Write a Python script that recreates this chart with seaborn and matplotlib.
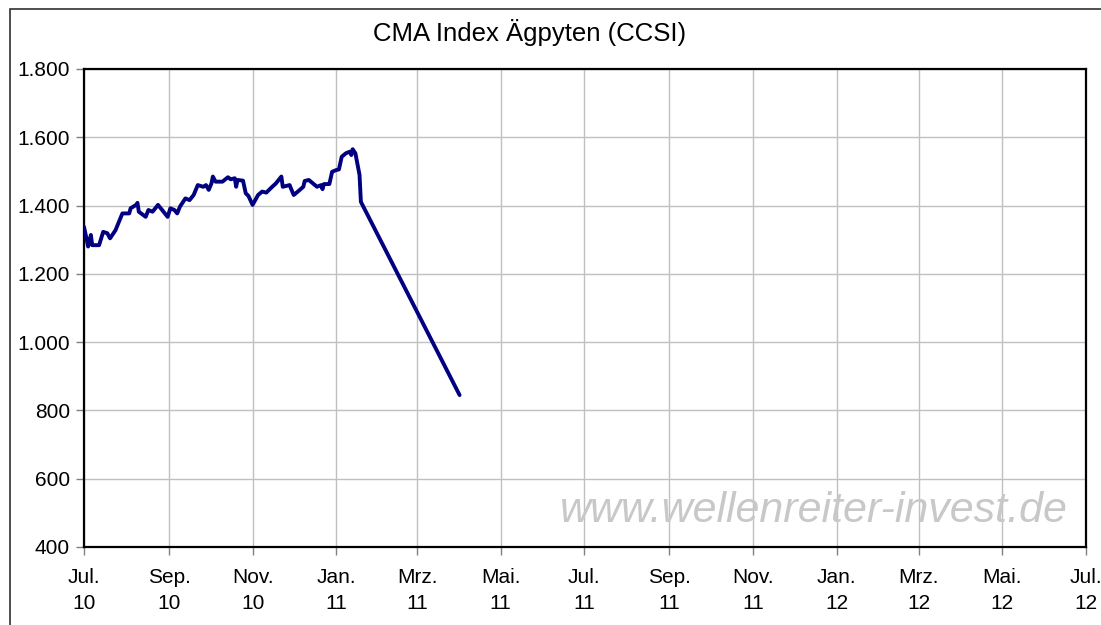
import pandas as pd
import seaborn as sns
import matplotlib.pyplot as plt
import matplotlib.dates as mdates
from matplotlib.patches import Rectangle
from matplotlib.ticker import FuncFormatter

# data
dates = [
    "2010-07-01", "2010-07-04", "2010-07-06", "2010-07-07", "2010-07-12", "2010-07-15",
    "2010-07-18", "2010-07-20", "2010-07-24", "2010-07-29", "2010-08-03", "2010-08-04",
    "2010-08-08", "2010-08-09", "2010-08-10", "2010-08-15", "2010-08-17", "2010-08-20",
    "2010-08-24", "2010-08-26", "2010-08-31", "2010-09-02", "2010-09-05", "2010-09-07",
    "2010-09-09", "2010-09-13", "2010-09-16", "2010-09-19", "2010-09-22", "2010-09-26",
    "2010-09-28", "2010-09-30", "2010-10-02", "2010-10-03", "2010-10-05", "2010-10-10",
    "2010-10-14", "2010-10-16", "2010-10-19", "2010-10-20", "2010-10-21", "2010-10-25",
    "2010-10-27", "2010-10-29", "2010-11-01", "2010-11-05", "2010-11-08", "2010-11-11",
    "2010-11-14", "2010-11-18", "2010-11-22", "2010-11-23", "2010-11-28", "2010-11-29",
    "2010-12-01", "2010-12-04", "2010-12-08", "2010-12-09", "2010-12-12", "2010-12-15",
    "2010-12-18", "2010-12-21", "2010-12-22", "2010-12-23", "2010-12-27", "2010-12-29",
    "2011-01-01", "2011-01-03", "2011-01-05", "2011-01-08", "2011-01-11", "2011-01-12",
    "2011-01-13", "2011-01-15", "2011-01-18", "2011-01-19", "2011-04-01",
]
ccsi = [
    1338, 1280, 1314, 1284, 1284, 1323,
    1319, 1304, 1328, 1377, 1377, 1392,
    1402, 1408, 1382, 1367, 1387, 1382,
    1402, 1392, 1367, 1392, 1387, 1377,
    1397, 1421, 1416, 1431, 1460, 1455,
    1460, 1446, 1465, 1485, 1470, 1470,
    1483, 1477, 1480, 1455, 1475, 1473,
    1436, 1428, 1402, 1431, 1441, 1438,
    1450, 1465, 1485, 1455, 1460, 1450,
    1431, 1441, 1455, 1472, 1475, 1465,
    1455, 1460, 1448, 1463, 1463, 1499,
    1504, 1506, 1543, 1553, 1558, 1548,
    1565, 1553, 1490, 1411, 845,
]
month_names = {1: "Jan.", 3: "Mrz.", 5: "Mai.", 7: "Jul.", 9: "Sep.", 11: "Nov."}

df = pd.DataFrame({"date": pd.to_datetime(dates), "ccsi": ccsi})

sns.set_theme(style="white")
plt.rcParams['font.family'] = ['Liberation Sans', 'DejaVu Sans']

fig = plt.figure(figsize=(11.01, 6.25), dpi=100)
ax = fig.add_axes([84 / 1101, 1 - 547 / 625, 1002 / 1101, 478 / 625])

sns.lineplot(data=df, x="date", y="ccsi", ax=ax, color="#000080", linewidth=2.8, zorder=3)

ax.set_xlim(pd.Timestamp("2010-07-01"), pd.Timestamp("2012-07-01"))
ax.set_ylim(400, 1800)
ax.set_yticks(range(400, 1801, 200))
ax.yaxis.set_major_formatter(FuncFormatter(lambda v, p: f"{int(v):,}".replace(",", ".")))
ax.xaxis.set_major_locator(mdates.MonthLocator(bymonth=[1, 3, 5, 7, 9, 11]))
ax.xaxis.set_major_formatter(FuncFormatter(
    lambda v, p: month_names[mdates.num2date(v).month] + "\n" + mdates.num2date(v).strftime("%y")))

ax.grid(True, color="#c0c0c0", linewidth=1)
ax.set_xlabel("")
ax.set_ylabel("")
for s in ax.spines.values():
    s.set_color("black")
    s.set_linewidth(1.6)
ax.tick_params(axis="both", direction="out", length=6, width=1, color="#808080",
               labelsize=15, labelcolor="black", left=True, bottom=True)
ax.tick_params(axis="x", pad=9)
ax.tick_params(axis="y", pad=4)
for lbl in ax.get_xticklabels():
    lbl.set_linespacing(1.45)

# watermark
ax.text(0.982, 0.075, "www.wellenreiter-invest.de", transform=ax.transAxes, ha="right", va="center",
        fontsize=31, style="italic", color="#c8c8c8", zorder=1)

fig.text(530 / 1101, 1 - 33 / 625, "CMA Index Ägpyten (CCSI)", ha="center", va="center",
         fontsize=18.5, color="black")

# outer frame
fig.patches.append(Rectangle((10 / 1101, -0.1), 1.2, 1 - 9 / 625 + 0.1, transform=fig.transFigure,
                             fill=False, edgecolor="#303030", linewidth=1.2))

plt.savefig("out.png", dpi=100)
